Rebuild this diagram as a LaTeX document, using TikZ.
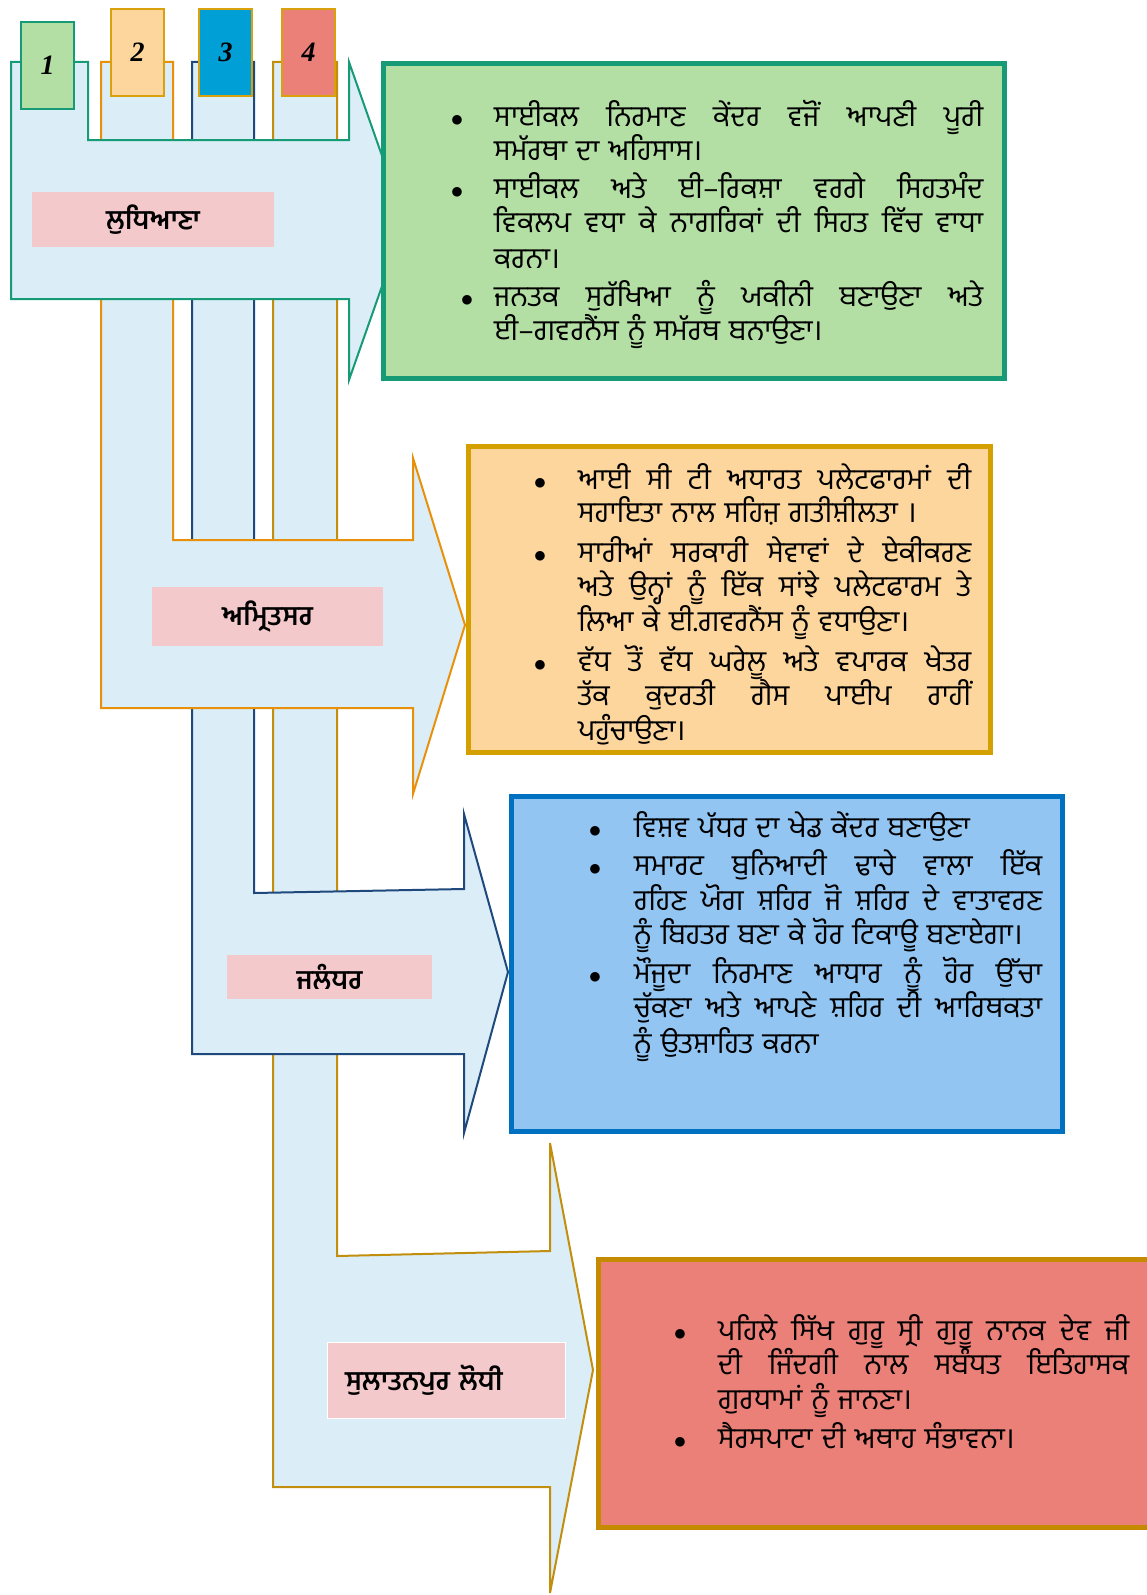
\documentclass[tikz,border=0pt]{standalone}
\usepackage{fontspec}
\newfontfamily\pa[Script=Gurmukhi,WordSpace={1.3,1.5,0.5}]{Hind Jalandhar}
\newfontfamily\numfont{Liberation Serif}
\definecolor{arrowfill}{HTML}{DBEEF7}
\definecolor{aone}{HTML}{169B76}
\definecolor{atwo}{HTML}{E8900A}
\definecolor{athree}{HTML}{1F497D}
\definecolor{afour}{HTML}{C28E0E}
\definecolor{tabgold}{HTML}{D9A20C}
\definecolor{greenfill}{HTML}{B3DEA4}
\definecolor{orangefill}{HTML}{FDD69E}
\definecolor{cyanfill}{HTML}{009FD6}
\definecolor{salmonfill}{HTML}{EA8078}
\definecolor{bluefill}{HTML}{92C5F2}
\definecolor{bluebord}{HTML}{0070C0}
\definecolor{goldbord}{HTML}{D4A000}
\definecolor{brownbord}{HTML}{C48A00}
\definecolor{pinklbl}{HTML}{F4C9CB}
\newcommand{\jl}[2]{\makebox[#1pt][s]{#2}}
\begin{document}
\begin{tikzpicture}[x=1pt,y=-1pt,
  arrowshape/.style={fill=arrowfill,line width=2pt,line join=miter},
  tabbox/.style={line width=2pt,inner sep=0pt,minimum width=53pt,minimum height=87pt,font=\numfont\bfseries\itshape\fontsize{28}{30}\selectfont},
  infobox/.style={line width=5pt,inner sep=0pt},
  lbl/.style={fill=pinklbl,inner sep=0pt,font=\pa\bfseries\fontsize{27}{30}\selectfont},
  txt/.style={anchor=base west,inner sep=0pt,font=\pa\fontsize{29}{34}\selectfont},
  bul/.style={anchor=base,inner sep=0pt,font=\fontsize{26}{30}\selectfont}]
\useasboundingbox (0,0) rectangle (1146,1595);
% arrows (bottom to top)
\draw[arrowshape,draw=afour] (273,62) -- (337,62) -- (337,1256) -- (550,1251) -- (550,1143) -- (593,1370) -- (550,1593) -- (550,1487) -- (273,1487) -- cycle;
\draw[arrowshape,draw=athree] (192,62) -- (254,62) -- (254,893) -- (464,889) -- (464,814) -- (508,972) -- (464,1133) -- (464,1054) -- (192,1054) -- cycle;
\draw[arrowshape,draw=atwo] (101,62) -- (173,62) -- (173,540) -- (413,540) -- (413,458) -- (465,625) -- (413,794) -- (413,708) -- (101,708) -- cycle;
\draw[arrowshape,draw=aone] (11,62) -- (88,62) -- (88,140) -- (349,140) -- (349,62) -- (405,221) -- (349,380) -- (349,299) -- (11,299) -- cycle;
% tabs
\node[tabbox,draw=aone,fill=greenfill] (tab1) at (47.5,65.5) {1};
\node[tabbox,draw=tabgold,fill=orangefill] (tab2) at (137.5,52.5) {2};
\node[tabbox,draw=tabgold,fill=cyanfill] (tab3) at (225.5,52.5) {3};
\node[tabbox,draw=tabgold,fill=salmonfill] (tab4) at (308.5,52.5) {4};
% labels
\node[lbl,minimum width=242pt,minimum height=55pt] (lab1) at (153,219.5) {ਲੁਧਿਆਣਾ};
\node[lbl,minimum width=231pt,minimum height=59pt] (lab2) at (267.5,616.5) {ਅਮ੍ਰਿਤਸਰ};
\node[lbl,minimum width=205pt,minimum height=44pt] (lab3) at (329.5,977) {ਜਲੰਧਰ};
\node[lbl,draw=white,line width=1pt,inner xsep=18pt,text width=202pt,align=left,minimum height=76pt] (lab4) at (446,1380) {ਸੁਲਾਤਨਪੁਰ ਲੋਧੀ};
% info boxes
\node[infobox,draw=aone,fill=greenfill,minimum width=621pt,minimum height=315pt] (box1) at (694,221) {};
\node[infobox,draw=goldbord,fill=orangefill,minimum width=522pt,minimum height=306pt] (box2) at (729.5,599.5) {};
\node[infobox,draw=bluebord,fill=bluefill,minimum width=551pt,minimum height=335pt] (box3) at (787,964) {};
\node[infobox,draw=brownbord,fill=salmonfill,minimum width=571.5pt,minimum height=268pt] (box4) at (884.25,1393.5) {};
% box 1 text
\node[bul] (b1u1) at (457,126) {$\bullet$};
\node[txt] (b1a) at (494,126) {\jl{489}{ਸਾਈਕਲ ਨਿਰਮਾਣ ਕੇਂਦਰ ਵਜੋਂ ਆਪਣੀ ਪੂਰੀ}};
\node[txt] (b1b) at (494,160.5) {ਸਮੱਰਥਾ ਦਾ ਅਹਿਸਾਸ।};
\node[bul] (b1u2) at (457,198) {$\bullet$};
\node[txt] (b1c) at (494,198) {\jl{489}{ਸਾਈਕਲ ਅਤੇ ਈ–ਰਿਕਸ਼ਾ ਵਰਗੇ ਸਿਹਤਮੰਦ}};
\node[txt] (b1d) at (494,232.7) {\jl{489}{ਵਿਕਲਪ ਵਧਾ ਕੇ ਨਾਗਰਿਕਾਂ ਦੀ ਸਿਹਤ ਵਿੱਚ ਵਾਧਾ}};
\node[txt] (b1e) at (494,268) {ਕਰਨਾ।};
\node[bul] (b1u3) at (467,306) {$\bullet$};
\node[txt] (b1f) at (494,306) {\jl{489}{ਜਨਤਕ ਸੁਰੱਖਿਆ ਨੂੰ ਯਕੀਨੀ ਬਣਾਉਣਾ ਅਤੇ}};
\node[txt] (b1g) at (494,340.5) {ਈ–ਗਵਰਨੈਂਸ ਨੂੰ ਸਮੱਰਥ ਬਨਾਉਣਾ।};
% box 2 text
\node[bul] (b2u1) at (540,489) {$\bullet$};
\node[txt] (b2a) at (578,489) {\jl{393}{ਆਈ ਸੀ ਟੀ ਅਧਾਰਤ ਪਲੇਟਫਾਰਮਾਂ ਦੀ}};
\node[txt] (b2b) at (578,522.5) {ਸਹਾਇਤਾ ਨਾਲ ਸਹਿਜ਼ ਗਤੀਸ਼ੀਲਤਾ ।};
\node[bul] (b2u2) at (540,562) {$\bullet$};
\node[txt] (b2c) at (578,562) {\jl{393}{ਸਾਰੀਆਂ ਸਰਕਾਰੀ ਸੇਵਾਵਾਂ ਦੇ ਏਕੀਕਰਣ}};
\node[txt] (b2d) at (578,596.7) {\jl{393}{ਅਤੇ ਉਨ੍ਹਾਂ ਨੂੰ ਇੱਕ ਸਾਂਝੇ ਪਲੇਟਫਾਰਮ ਤੇ}};
\node[txt] (b2e) at (578,631) {ਲਿਆ ਕੇ ਈ.ਗਵਰਨੈਂਸ ਨੂੰ ਵਧਾਉਣਾ।};
\node[bul] (b2u3) at (540,671) {$\bullet$};
\node[txt] (b2f) at (578,671) {\jl{393}{ਵੱਧ ਤੋਂ ਵੱਧ ਘਰੇਲੂ ਅਤੇ ਵਪਾਰਕ ਖੇਤਰ}};
\node[txt] (b2g) at (578,705.5) {\jl{393}{ਤੱਕ ਕੁਦਰਤੀ ਗੈਸ ਪਾਈਪ ਰਾਹੀਂ}};
\node[txt] (b2h) at (578,740) {ਪਹੁੰਚਾਉਣਾ।};
% box 3 text
\node[bul] (b3u1) at (595,837.7) {$\bullet$};
\node[txt] (b3a) at (634,837.7) {ਵਿਸ਼ਵ ਪੱਧਰ ਦਾ ਖੇਡ ਕੇਂਦਰ ਬਣਾਉਣਾ};
\node[bul] (b3u2) at (595,875) {$\bullet$};
\node[txt] (b3b) at (634,875) {\jl{408}{ਸਮਾਰਟ ਬੁਨਿਆਦੀ ਢਾਚੇ ਵਾਲਾ ਇੱਕ}};
\node[txt] (b3c) at (634,910) {\jl{408}{ਰਹਿਣ ਯੋਗ ਸ਼ਹਿਰ ਜੋ ਸ਼ਹਿਰ ਦੇ ਵਾਤਾਵਰਣ}};
\node[txt] (b3d) at (634,944.5) {ਨੂੰ ਬਿਹਤਰ ਬਣਾ ਕੇ ਹੋਰ ਟਿਕਾਊ ਬਣਾਏਗਾ।};
\node[bul] (b3u3) at (595,983) {$\bullet$};
\node[txt] (b3e) at (634,983) {\jl{408}{ਮੌਜੂਦਾ ਨਿਰਮਾਣ ਆਧਾਰ ਨੂੰ ਹੋਰ ਉੱਚਾ}};
\node[txt] (b3f) at (634,1017.7) {\jl{408}{ਚੁੱਕਣਾ ਅਤੇ ਆਪਣੇ ਸ਼ਹਿਰ ਦੀ ਆਰਿਥਕਤਾ}};
\node[txt] (b3g) at (634,1053) {ਨੂੰ ਉਤਸ਼ਾਹਿਤ ਕਰਨਾ};
% box 4 text
\node[bul] (b4u1) at (680,1340) {$\bullet$};
\node[txt] (b4a) at (718,1340) {\jl{411}{ਪਹਿਲੇ ਸਿੱਖ ਗੁਰੂ ਸ੍ਰੀ ਗੁਰੂ ਨਾਨਕ ਦੇਵ ਜੀ}};
\node[txt] (b4b) at (718,1374.6) {\jl{411}{ਦੀ ਜਿੰਦਗੀ ਨਾਲ ਸਬੰਧਤ ਇਤਿਹਾਸਕ}};
\node[txt] (b4c) at (718,1409) {ਗੁਰਧਾਮਾਂ ਨੂੰ ਜਾਨਣਾ।};
\node[bul] (b4u2) at (680,1448) {$\bullet$};
\node[txt] (b4d) at (718,1448) {ਸੈਰਸਪਾਟਾ ਦੀ ਅਥਾਹ ਸੰਭਾਵਨਾ।};
\end{tikzpicture}
\end{document}
